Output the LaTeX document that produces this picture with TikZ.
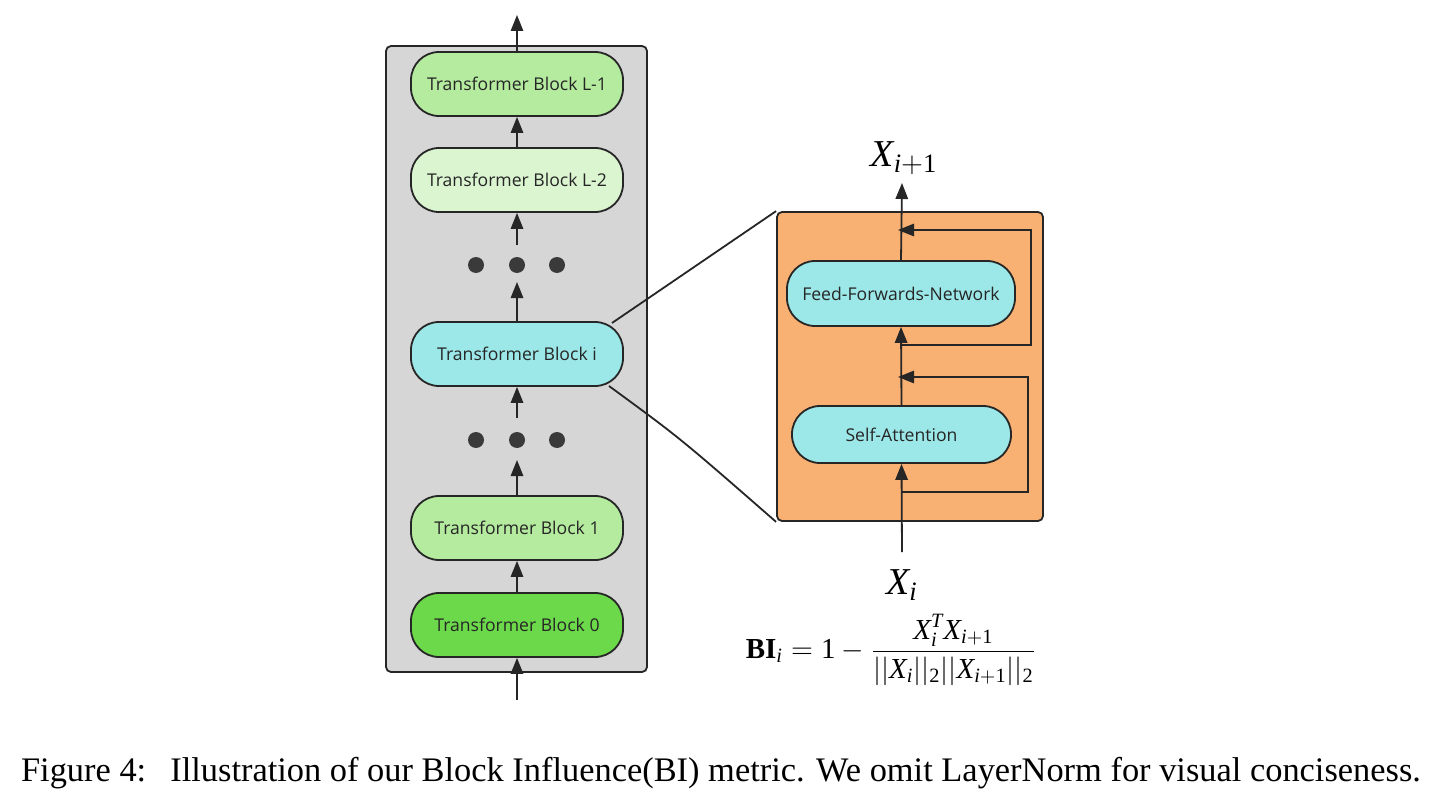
\documentclass[tikz,border=0pt]{standalone}
\usepackage{amsmath}
\usepackage{fontspec}
\setmainfont{Liberation Serif}
\newfontfamily\blockfont{Open Sans}
\usetikzlibrary{arrows.meta}
\newcommand{\mX}{\text{\itshape X}}
\newcommand{\mI}{\text{\itshape i}}
\newcommand{\mT}{\text{\itshape T}}
\newcommand{\mr}[1]{\text{\upshape #1}}
\definecolor{lc}{HTML}{262626}
\definecolor{grayfill}{HTML}{D6D6D6}
\definecolor{gmid}{HTML}{B4EB9F}
\definecolor{gpale}{HTML}{DAF5D0}
\definecolor{gdark}{HTML}{6CD94B}
\definecolor{cyanf}{HTML}{9CE7E7}
\definecolor{orangef}{HTML}{F9B073}
\definecolor{dotc}{HTML}{3A3A3A}
\begin{document}
\begin{tikzpicture}[x=0.5pt,y=-0.5pt,
  blk/.style={draw=lc, line width=0.9pt, rounded corners=14pt, minimum width=106pt, minimum height=32pt, inner sep=0pt, font=\blockfont\fontsize{8.8}{10}\selectfont, text=lc},
  arr/.style={-{Triangle[length=8pt,width=6.2pt]}, line width=0.9pt, draw=lc},
  ln/.style={line width=0.9pt, draw=lc},
  dotn/.style={circle, fill=dotc, minimum size=8pt, inner sep=0pt},
  panel/.style={draw=lc, line width=0.9pt, rounded corners=2.5pt, inner sep=0pt}]
\useasboundingbox (0,0) rectangle (1446,808);
% left stack
\node[panel, fill=grayfill, minimum width=130.5pt, minimum height=313pt] (stack) at (516.5,359) {};
\node[blk, fill=gmid] (bL1) at (517,84) {Transformer Block L-1};
\node[blk, fill=gpale] (bL2) at (517,180) {Transformer Block L-2};
\node[dotn] (da1) at (476,265) {};
\node[dotn] (da2) at (517,265) {};
\node[dotn] (da3) at (557,265) {};
\node[blk, fill=cyanf] (bi) at (517,354) {Transformer Block i};
\node[dotn] (db1) at (476,440) {};
\node[dotn] (db2) at (517,440) {};
\node[dotn] (db3) at (557,440) {};
\node[blk, fill=gmid] (b1) at (517,528) {Transformer Block 1};
\node[blk, fill=gdark] (b0) at (517,625) {Transformer Block 0};
\coordinate (in0) at (517,700);
\coordinate (out0) at (517,15);
\coordinate (dbtip) at (517,460);
\coordinate (dbstart) at (517,418);
\coordinate (datip) at (517,282);
\coordinate (dastart) at (517,245);
\draw[arr] (in0) -- (b0.south);
\draw[arr] (b0.north) -- (b1.south);
\draw[arr] (b1.north) -- (dbtip);
\draw[arr] (dbstart) -- (bi.south);
\draw[arr] (bi.north) -- (datip);
\draw[arr] (dastart) -- (bL2.south);
\draw[arr] (bL2.north) -- (bL1.south);
\draw[arr] (bL1.north) -- (out0);
% right detail
\node[panel, fill=orangef, minimum width=133pt, minimum height=154.5pt] (detail) at (910,366.5) {};
\node[blk, fill=cyanf, minimum width=114pt, minimum height=32.5pt] (ffn) at (901,293.5) {Feed-Forwards-Network};
\node[blk, fill=cyanf, minimum width=109.5pt, minimum height=28.5pt] (sa) at (901.5,434.5) {Self-Attention};
\coordinate (zA) at (612,323);
\coordinate (zB) at (609,386);
\draw[ln] (zA) -- (detail.north west);
\draw[ln] (zB) .. controls (680,438) .. (detail.south west);
\coordinate (xin) at (902,552);
\coordinate (xout) at (902,183);
\coordinate (r1s) at (902,492);
\coordinate (r1a) at (1028,492);
\coordinate (r1b) at (1028,377);
\coordinate (r1e) at (898,377);
\coordinate (r2s) at (902,345);
\coordinate (r2a) at (1031,345);
\coordinate (r2b) at (1031,230);
\coordinate (r2e) at (898,230);
\draw[arr] (xin) -- (sa.south);
\draw[arr] (sa.north) -- (ffn.south);
\draw[arr] (ffn.north) -- (xout);
\draw[arr] (r1s) -- (r1a) -- (r1b) -- (r1e);
\draw[arr] (r2s) -- (r2a) -- (r2b) -- (r2e);
\node[font=\fontsize{19}{22}\selectfont] (lout) at (904,158) {$\mX_{\mI+\mr{1}}$};
\node[font=\fontsize{19}{22}\selectfont] (lin) at (902,585) {$\mX_{\mI}$};
\node[font=\fontsize{14.5}{17}\selectfont] (formula) at (891,650) {$\text{\bfseries BI}_{\mI} = \mr{1} - \dfrac{\mX_{\mI}^{\mT}\mX_{\mI+\mr{1}}}{||\mX_{\mI}||_{\mr{2}}||\mX_{\mI+\mr{1}}||_{\mr{2}}}$};
\node[font=\fontsize{17.2}{20}\selectfont] (caption) at (721,773) {Figure 4:\hspace{0.7em}Illustration of our Block Influence(BI) metric. We omit LayerNorm for visual conciseness.};
\end{tikzpicture}
\end{document}
